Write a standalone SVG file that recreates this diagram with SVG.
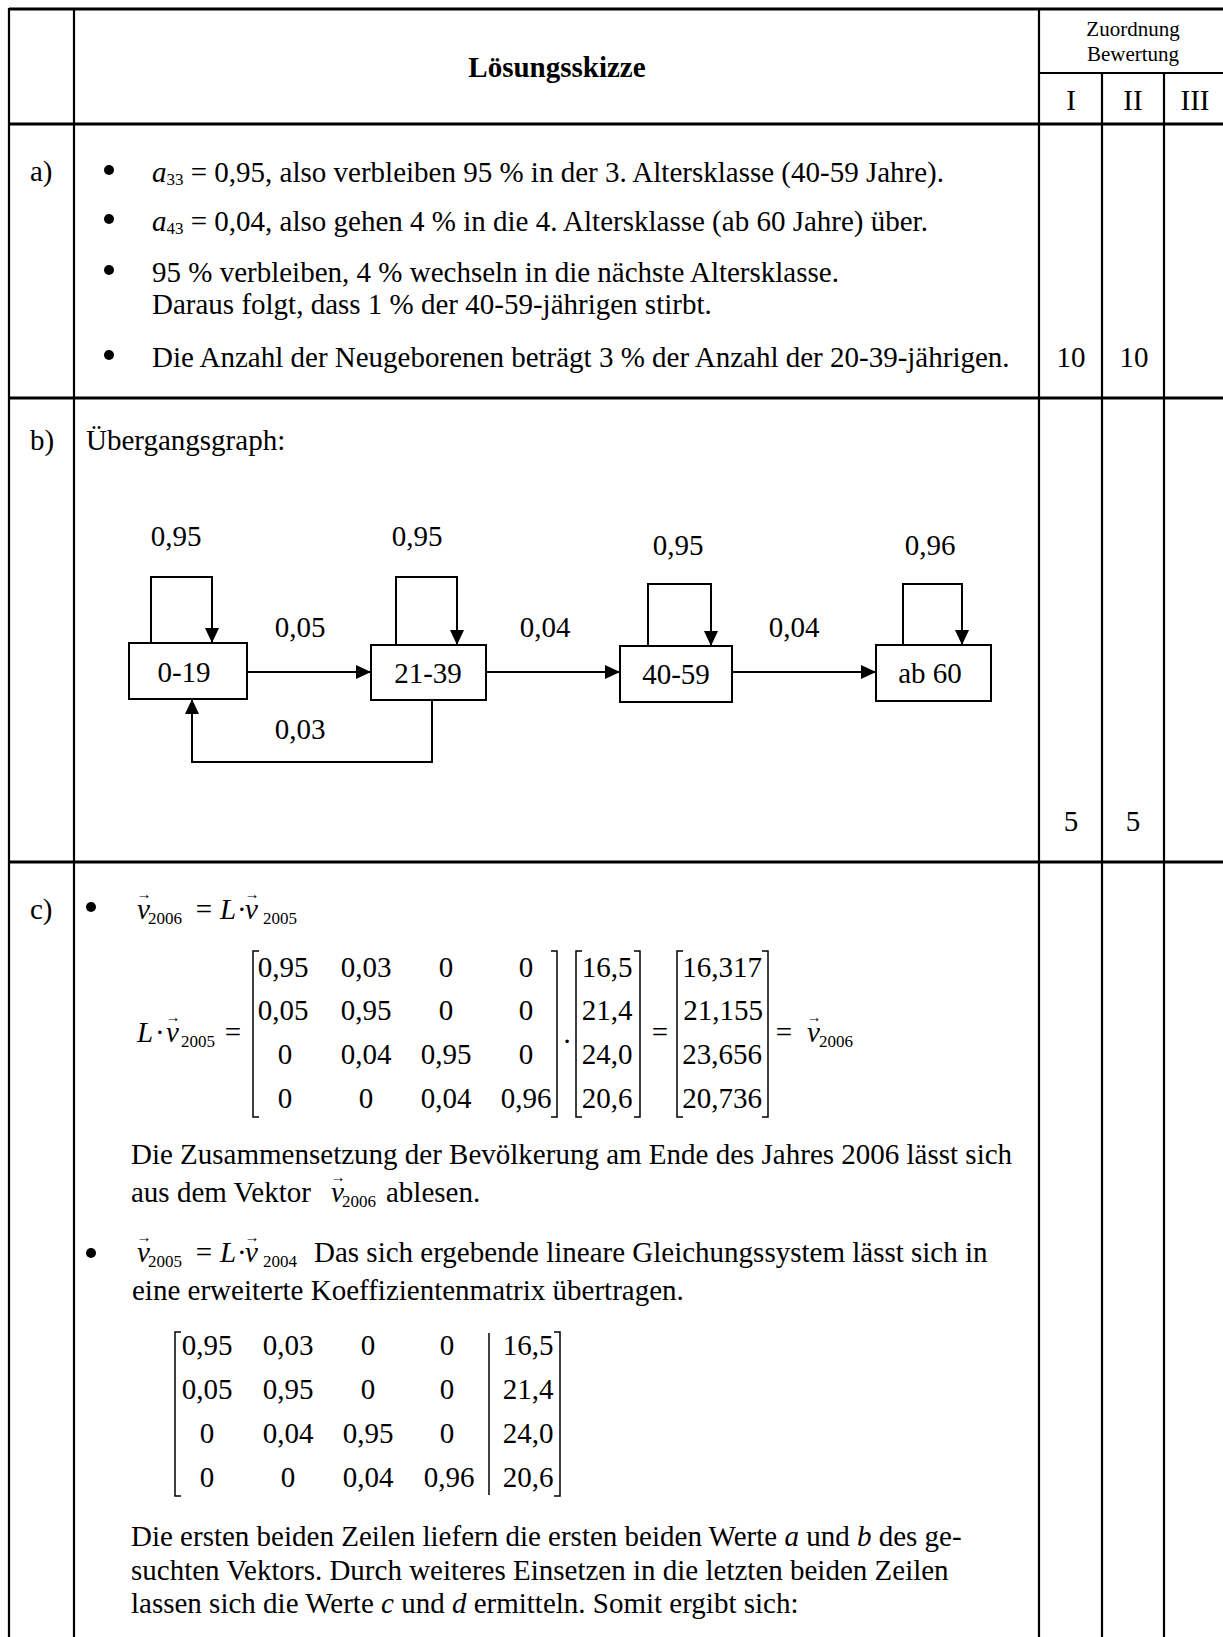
<svg xmlns="http://www.w3.org/2000/svg" width="1223" height="1637" viewBox="0 0 1223 1637">
<style>
.t{font-family:"Liberation Serif","Times New Roman",serif;font-size:29px;fill:#000}
.b{font-weight:bold}
.i{font-style:italic}
.s{font-size:17px}
.h{font-size:21px}
.ar{font-size:15px}
.c{text-anchor:middle}
.g{stroke:#000;fill:none}
.v{stroke-width:2.2}
.hz{stroke-width:3}
.br{stroke:#000;stroke-width:1.5;fill:none}
.box{fill:#fff;stroke:#000;stroke-width:2}
.edge{stroke:#000;stroke-width:2;fill:none}
</style>
<defs>
<marker id="ah" markerUnits="userSpaceOnUse" markerWidth="15" markerHeight="15" refX="15" refY="7" orient="auto">
<path d="M0,0 L15,7 L0,14 z" fill="#000"/>
</marker>
</defs>
<rect width="1223" height="1637" fill="#fff"/>

<g id="table">
<path class="g hz" d="M9,9 H1223 M9,124 H1223 M9,398 H1223 M9,862 H1223"/>
<path class="g v" d="M1039,73 H1223"/>
<path class="g v" d="M9,8 V1637 M74,9 V1637 M1039,9 V1637 M1102,73 V1637 M1164,73 V1637"/>
</g>

<g id="header">
<text class="t b c" x="557" y="77">Lösungsskizze</text>
<text class="t h c" x="1133" y="36">Zuordnung</text>
<text class="t h c" x="1133" y="61">Bewertung</text>
<text class="t c" x="1071" y="110">I</text>
<text class="t c" x="1133" y="110">II</text>
<text class="t c" x="1195" y="110">III</text>
</g>

<g id="row-a">
<text class="t" x="30" y="181">a)</text>
<circle cx="109" cy="170" r="5"/>
<circle cx="109" cy="219" r="5"/>
<circle cx="109" cy="270" r="5"/>
<circle cx="109" cy="355" r="5"/>
<text class="t" x="152" y="182"><tspan class="i">a</tspan><tspan class="s" dy="3">33</tspan><tspan dy="-3"> = 0,95, also verbleiben 95 % in der 3. Altersklasse (40-59 Jahre).</tspan></text>
<text class="t" x="152" y="231"><tspan class="i">a</tspan><tspan class="s" dy="3">43</tspan><tspan dy="-3"> = 0,04, also gehen 4 % in die 4. Altersklasse (ab 60 Jahre) über.</tspan></text>
<text class="t" x="152" y="282">95 % verbleiben, 4 % wechseln in die nächste Altersklasse.</text>
<text class="t" x="152" y="314">Daraus folgt, dass 1 % der 40-59-jährigen stirbt.</text>
<text class="t" x="152" y="367">Die Anzahl der Neugeborenen beträgt 3 % der Anzahl der 20-39-jährigen.</text>
<text class="t c" x="1071" y="367">10</text>
<text class="t c" x="1134" y="367">10</text>
</g>

<g id="row-b">
<text class="t" x="30" y="450">b)</text>
<text class="t" x="86" y="450">Übergangsgraph:</text>
<text class="t c" x="1071" y="831">5</text>
<text class="t c" x="1133" y="831">5</text>
</g>

<g id="connectors">
<path class="edge" marker-end="url(#ah)" d="M247,672 H371"/>
<path class="edge" marker-end="url(#ah)" d="M486,672 H620"/>
<path class="edge" marker-end="url(#ah)" d="M732,672 H876"/>
<path class="edge" marker-end="url(#ah)" d="M151,643 V577 H212 V643"/>
<path class="edge" marker-end="url(#ah)" d="M396,647 V577 H457 V645"/>
<path class="edge" marker-end="url(#ah)" d="M648,646 V584 H711 V646"/>
<path class="edge" marker-end="url(#ah)" d="M903,645 V584 H962 V645"/>
<path class="edge" marker-end="url(#ah)" d="M432,700 V762 H192 V699"/>
<text class="t c" x="176" y="546">0,95</text>
<text class="t c" x="417" y="546">0,95</text>
<text class="t c" x="678" y="555">0,95</text>
<text class="t c" x="930" y="555">0,96</text>
<text class="t c" x="300" y="637">0,05</text>
<text class="t c" x="545" y="637">0,04</text>
<text class="t c" x="794" y="637">0,04</text>
<text class="t c" x="300" y="739">0,03</text>
</g>

<g id="node-0-19">
<rect class="box" x="129" y="643" width="118" height="56"/>
<text class="t c" x="184" y="682">0-19</text>
</g>
<g id="node-21-39">
<rect class="box" x="371" y="645" width="115" height="55"/>
<text class="t c" x="428" y="683">21-39</text>
</g>
<g id="node-40-59">
<rect class="box" x="620" y="646" width="112" height="56"/>
<text class="t c" x="676" y="684">40-59</text>
</g>
<g id="node-ab-60">
<rect class="box" x="876" y="645" width="115" height="56"/>
<text class="t c" x="930" y="683">ab 60</text>
</g>

<g id="row-c">
<text class="t" x="30" y="919">c)</text>
<circle cx="91" cy="907" r="5"/>
<circle cx="91" cy="1253" r="5"/>

<!-- v2006 = L . v2005 -->
<text class="t i" x="137" y="919">v</text>
<text class="t ar c" x="144" y="899">→</text>
<text class="t s" x="148" y="924">2006</text>
<text class="t c" x="204" y="919">=</text>
<text class="t i" x="220" y="919">L</text>
<text class="t" x="237" y="919">·</text>
<text class="t i" x="245" y="919">v</text>
<text class="t ar c" x="252" y="899">→</text>
<text class="t s" x="263" y="924">2005</text>

<!-- matrix equation -->
<text class="t i" x="137" y="1042">L</text>
<text class="t" x="155" y="1042">·</text>
<text class="t i" x="166" y="1042">v</text>
<text class="t ar c" x="173" y="1022">→</text>
<text class="t s" x="181" y="1047">2005</text>
<text class="t c" x="233" y="1042">=</text>
<path class="br" d="M259,951 H253 V1117 H259"/>
<path class="br" d="M551,951 H557 V1117 H551"/>
<g class="t c">
<text x="283" y="977">0,95</text><text x="366" y="977">0,03</text><text x="446" y="977">0</text><text x="526" y="977">0</text>
<text x="283" y="1020">0,05</text><text x="366" y="1020">0,95</text><text x="446" y="1020">0</text><text x="526" y="1020">0</text>
<text x="285" y="1064">0</text><text x="366" y="1064">0,04</text><text x="446" y="1064">0,95</text><text x="526" y="1064">0</text>
<text x="285" y="1108">0</text><text x="366" y="1108">0</text><text x="446" y="1108">0,04</text><text x="526" y="1108">0,96</text>
</g>
<text class="t c" x="567" y="1051">·</text>
<path class="br" d="M582,951 H576 V1117 H582"/>
<path class="br" d="M634,951 H640 V1117 H634"/>
<g class="t c">
<text x="607" y="977">16,5</text>
<text x="607" y="1020">21,4</text>
<text x="607" y="1064">24,0</text>
<text x="607" y="1108">20,6</text>
</g>
<text class="t c" x="660" y="1042">=</text>
<path class="br" d="M683,951 H677 V1117 H683"/>
<path class="br" d="M762,951 H768 V1117 H762"/>
<g class="t c">
<text x="722" y="977">16,317</text>
<text x="723" y="1020">21,155</text>
<text x="722" y="1064">23,656</text>
<text x="722" y="1108">20,736</text>
</g>
<text class="t c" x="784" y="1042">=</text>
<text class="t i" x="807" y="1042">v</text>
<text class="t ar c" x="814" y="1022">→</text>
<text class="t s" x="819" y="1047">2006</text>

<text class="t" x="131" y="1164">Die Zusammensetzung der Bevölkerung am Ende des Jahres 2006 lässt sich</text>
<text class="t" x="131" y="1202">aus dem Vektor</text>
<text class="t i" x="331" y="1202">v</text>
<text class="t ar c" x="338" y="1182">→</text>
<text class="t s" x="342" y="1207">2006</text>
<text class="t" x="386" y="1202">ablesen.</text>

<!-- v2005 = L . v2004 -->
<text class="t i" x="137" y="1262">v</text>
<text class="t ar c" x="144" y="1242">→</text>
<text class="t s" x="148" y="1267">2005</text>
<text class="t c" x="204" y="1262">=</text>
<text class="t i" x="220" y="1262">L</text>
<text class="t" x="237" y="1262">·</text>
<text class="t i" x="245" y="1262">v</text>
<text class="t ar c" x="252" y="1242">→</text>
<text class="t s" x="263" y="1267">2004</text>
<text class="t" x="314" y="1262">Das sich ergebende lineare Gleichungssystem lässt sich in</text>
<text class="t" x="132" y="1300">eine erweiterte Koeffizientenmatrix übertragen.</text>

<path class="br" d="M181,1332 H175 V1496 H181"/>
<path class="br" d="M554,1332 H560 V1496 H554"/>
<path class="br" d="M489,1333 V1495"/>
<g class="t c">
<text x="207" y="1355">0,95</text><text x="288" y="1355">0,03</text><text x="368" y="1355">0</text><text x="447" y="1355">0</text><text x="528" y="1355">16,5</text>
<text x="207" y="1399">0,05</text><text x="288" y="1399">0,95</text><text x="368" y="1399">0</text><text x="447" y="1399">0</text><text x="528" y="1399">21,4</text>
<text x="207" y="1443">0</text><text x="288" y="1443">0,04</text><text x="368" y="1443">0,95</text><text x="447" y="1443">0</text><text x="528" y="1443">24,0</text>
<text x="207" y="1487">0</text><text x="288" y="1487">0</text><text x="368" y="1487">0,04</text><text x="449" y="1487">0,96</text><text x="528" y="1487">20,6</text>
</g>

<text class="t" x="131" y="1546">Die ersten beiden Zeilen liefern die ersten beiden Werte <tspan class="i">a</tspan> und <tspan class="i">b</tspan> des ge-</text>
<text class="t" x="131" y="1580">suchten Vektors. Durch weiteres Einsetzen in die letzten beiden Zeilen</text>
<text class="t" x="131" y="1613">lassen sich die Werte <tspan class="i">c</tspan> und <tspan class="i">d</tspan> ermitteln. Somit ergibt sich:</text>
</g>
</svg>
